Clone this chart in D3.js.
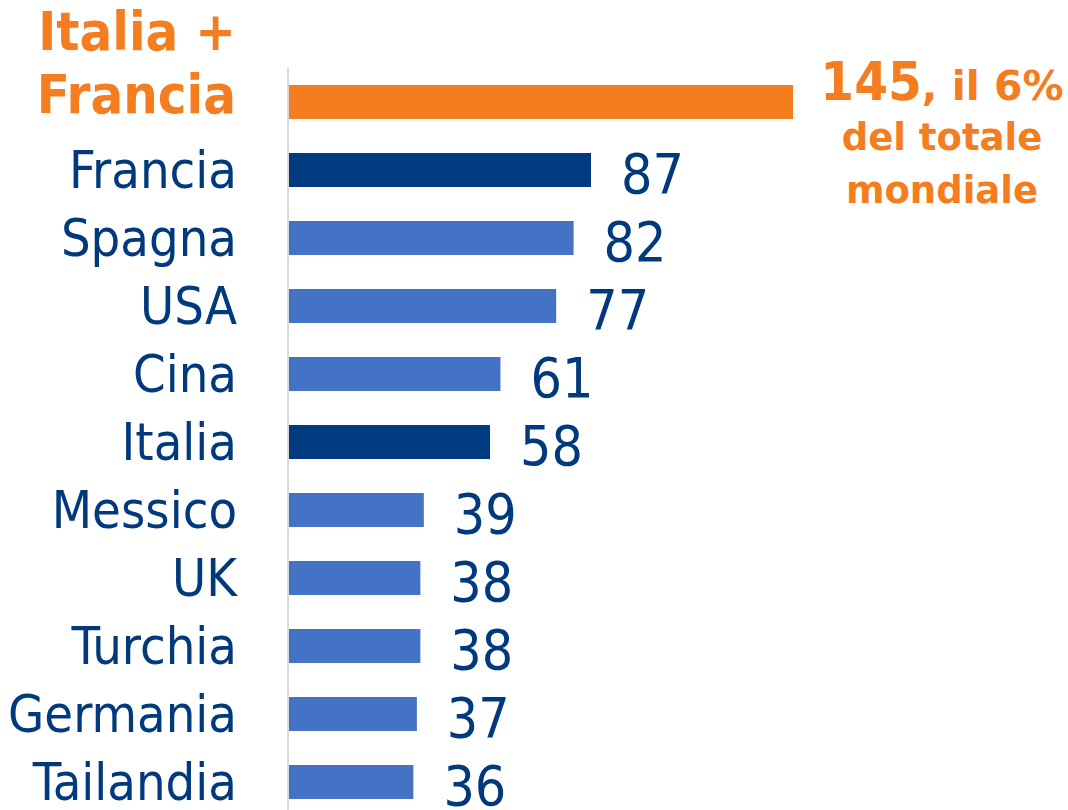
<!DOCTYPE html>
<html>
<head>
<meta charset="utf-8">
<script src="https://cdn.jsdelivr.net/npm/d3@7"></script>
<style>
  html, body { margin: 0; padding: 0; background: #fff; }
  svg { display: block; }
</style>
</head>
<body>
<svg id="chart" width="1068" height="810"></svg>
<script>
const categories = ["Italia + Francia", "Francia", "Spagna", "USA", "Cina", "Italia", "Messico", "UK", "Turchia", "Germania", "Tailandia"];
const values = [145, 87, 82, 77, 61, 58, 39, 38, 38, 37, 36];
const barKinds = ["total", "dark", "light", "light", "light", "dark", "light", "light", "light", "light", "light"];
const totalLabelLines = ["Italia +", "Francia"];
const annotationLines = [["145", ", il 6%"], ["del totale"], ["mondiale"]];

const colors = { total: "#F47D20", dark: "#003B80", light: "#4472C4" };
const textBlue = "#003A7D";
const orange = "#F47D20";
const FONT_C = "'DejaVu Sans Condensed', 'DejaVu Sans', sans-serif";
const FONT_W = "'DejaVu Sans', sans-serif";

const svg = d3.select("#chart");
const x0 = 288;
const x = d3.scaleLinear().domain([0, 145]).range([x0, 793]);
const y = d3.scaleBand().domain(categories).range([68, 816]).paddingInner(0.5).paddingOuter(0.25);

const data = categories.map((c, i) => ({ c, v: values[i], k: barKinds[i] }));

// axis line
svg.append("line")
  .attr("x1", x0).attr("x2", x0)
  .attr("y1", 68).attr("y2", 810)
  .attr("stroke", "#d9d9d9").attr("stroke-width", 2);

// bars
svg.selectAll("rect.bar").data(data).join("rect")
  .attr("class", "bar")
  .attr("x", x0 + 1)
  .attr("y", d => y(d.c))
  .attr("width", d => x(d.v) - x0 - 1)
  .attr("height", y.bandwidth())
  .attr("fill", d => colors[d.k]);

// category labels
const lab = svg.append("g").attr("font-family", FONT_C).attr("font-stretch", "condensed");
data.forEach((d, i) => {
  const cy = y(d.c) + y.bandwidth() / 2;
  if (d.k === "total") {
    totalLabelLines.forEach((s, j) => {
      lab.append("text").attr("x", 236).attr("y", cy - 52 + j * 63).attr("text-anchor", "end")
        .attr("font-size", 54).attr("font-weight", "bold")
        .attr("fill", orange).text(s);
    });
  } else {
    lab.append("text").attr("x", 237).attr("y", cy + 18).attr("text-anchor", "end")
      .attr("font-size", 52).attr("fill", textBlue).text(d.c);
  }
});

// value labels
data.filter(d => d.k !== "total").forEach(d => {
  const cy = y(d.c) + y.bandwidth() / 2;
  lab.append("text").attr("x", x(d.v) + 30).attr("y", cy + 23)
    .attr("font-size", 55).attr("fill", textBlue).text(d.v);
});

// annotation
const ann = svg.append("g").attr("font-family", FONT_W)
  .attr("font-weight", "bold").attr("fill", orange).attr("text-anchor", "middle");
const annY = [100, 150, 203];
const annSize = [41, 37, 37];
annotationLines.forEach((line, i) => {
  const t = ann.append("text").attr("x", 942).attr("y", annY[i]);
  line.forEach((s, j) => {
    const ts = t.append("tspan").attr("font-size", annSize[i]).text(s);
    if (i === 0 && j === 0) {
      ts.attr("font-size", 54).attr("font-family", FONT_C).attr("font-stretch", "condensed");
    }
  });
});
</script>
</body>
</html>
